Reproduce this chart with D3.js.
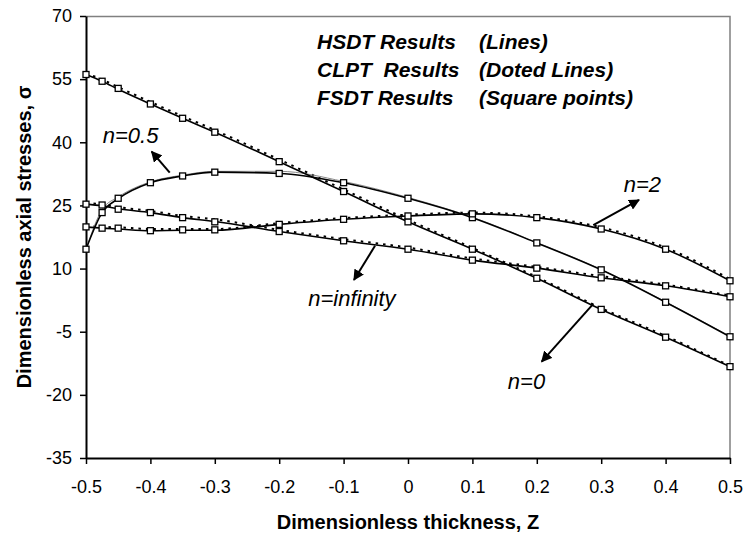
<!DOCTYPE html>
<html>
<head>
<meta charset="utf-8">
<script src="https://cdn.jsdelivr.net/npm/d3@7"></script>
<style>
  body { margin: 0; background: #fff; }
  text { font-family: "Liberation Sans", Arial, sans-serif; fill: #000; }
</style>
</head>
<body>
<svg id="chart" width="746" height="539"></svg>
<script>
// thickness positions (z) where results were computed
const zValues = [-0.5, -0.475, -0.45, -0.4, -0.35, -0.3, -0.2, -0.1, 0, 0.1, 0.2, 0.3, 0.4, 0.5]

const xTicks = [-0.5, -0.4, -0.3, -0.2, -0.1, 0, 0.1, 0.2, 0.3, 0.4, 0.5]
const yTicks = [-35, -20, -5, 10, 25, 40, 55, 70]

// HSDT results (solid lines)
const hsdtN0   = [56.1, 54.5, 52.6, 49.1, 45.7, 42.4, 35.4, 28.3, 21.1, 14.6, 7.7, 0.3, -6.3, -13.3]
const hsdtN05  = [14.6, 23.3, 26.6, 30.4, 32.0, 32.9, 32.6, 30.4, 26.7, 22.1, 16.1, 9.7, 2.0, -6.2]
const hsdtN2   = [19.9, 19.6, 19.4, 19.0, 19.1, 19.1, 20.5, 21.7, 22.5, 23.0, 22.1, 19.4, 14.6, 7.1]
const hsdtNinf = [25.3, 24.9, 24.2, 23.3, 22.1, 21.2, 18.8, 16.6, 14.6, 12.0, 10.1, 7.8, 5.9, 3.3]

// CLPT results (doted lines)
const clptN0   = [56.4, 54.9, 53.1, 49.6, 46.2, 42.9, 35.9, 28.8, 21.6, 14.9, 8.0, 0.6, -6.0, -13.1]
const clptN05  = [14.6, 24.0, 27.0, 30.6, 32.2, 33.1, 33.1, 30.7, 26.9, 22.2, 16.2, 9.8, 2.1, -6.1]
const clptN2   = [20.2, 19.9, 19.8, 19.4, 19.4, 19.4, 20.8, 22.0, 22.8, 23.3, 22.4, 19.8, 15.0, 7.5]
const clptNinf = [25.6, 25.2, 24.6, 23.7, 22.5, 21.7, 19.2, 17.0, 15.0, 12.4, 10.4, 8.2, 6.2, 3.6]

// FSDT results (square points)
const fsdtN0   = [56.1, 54.5, 52.8, 49.1, 45.7, 42.4, 35.4, 28.3, 21.1, 14.6, 7.7, 0.3, -6.3, -13.3]
const fsdtN05  = [14.6, 23.3, 26.7, 30.4, 32.0, 32.9, 32.6, 30.4, 26.7, 22.1, 16.1, 9.7, 2.0, -6.2]
const fsdtN2   = [19.9, 19.6, 19.6, 19.0, 19.2, 19.2, 20.5, 21.7, 22.5, 23.0, 22.1, 19.4, 14.6, 7.1]
const fsdtNinf = [25.3, 25.1, 24.1, 23.3, 22.1, 21.1, 18.8, 16.6, 14.6, 12.0, 10.1, 7.8, 5.9, 3.3]

const seriesNames = ['n=0', 'n=0.5', 'n=2', 'n=infinity']
const legendNames = ['HSDT Results', 'CLPT  Results', 'FSDT Results']
const legendNotes = ['(Lines)', '(Doted Lines)', '(Square points)']

const margin = {top: 16, right: 16, bottom: 81, left: 86}
const width = 746 - margin.left - margin.right
const height = 539 - margin.top - margin.bottom

const svg = d3.select('#chart')
const g = svg.append('g').attr('transform', `translate(${margin.left},${margin.top})`)

const x = d3.scaleLinear().domain([-0.5, 0.5]).range([0, width])
const y = d3.scaleLinear().domain([-35, 70]).range([height, 0])

// top and right border (gray)
g.append('path')
  .attr('d', `M0,0.5H${width}V${height}`)
  .attr('fill', 'none')
  .attr('stroke', '#808080')
  .attr('stroke-width', 1.5)

const xAxis = g.append('g')
  .attr('transform', `translate(0,${height})`)
  .call(d3.axisBottom(x).tickValues(xTicks).tickFormat(d => String(d)).tickSize(6).tickSizeOuter(0).tickPadding(16))

const yAxis = g.append('g')
  .call(d3.axisLeft(y).tickValues(yTicks).tickFormat(d => String(d)).tickSize(6).tickSizeOuter(0).tickPadding(8))

for (const ax of [xAxis, yAxis]) {
  ax.select('.domain').attr('stroke', '#000').attr('stroke-width', 2)
  ax.selectAll('.tick line').attr('stroke', '#000').attr('stroke-width', 1.5)
  ax.selectAll('.tick text').attr('font-size', 18).attr('font-family', '"Liberation Sans", Arial, sans-serif').attr('fill', '#000')
}

// axis titles
svg.append('text')
  .attr('x', margin.left + width / 2)
  .attr('y', 529)
  .attr('text-anchor', 'middle')
  .attr('font-size', 20)
  .attr('font-weight', 'bold')
  .text('Dimensionless thickness, Z')

svg.append('text')
  .attr('transform', `translate(31,${margin.top + height / 2}) rotate(-90)`)
  .attr('text-anchor', 'middle')
  .attr('font-size', 20)
  .attr('font-weight', 'bold')
  .text('Dimensionless axial stresses, σ')

const line = d3.line()
  .x((d, i) => x(zValues[i]))
  .y(d => y(d))
  .curve(d3.curveMonotoneX)

// CLPT lines
const clpt = [clptN0, clptN2, clptNinf]
g.selectAll('.clpt')
  .data(clpt)
  .join('path')
  .attr('class', 'clpt')
  .attr('d', line)
  .attr('fill', 'none')
  .attr('stroke', '#000')
  .attr('stroke-width', 2)
  .attr('stroke-dasharray', '2.5,5')

g.append('path')
  .datum(clptN05)
  .attr('d', line)
  .attr('fill', 'none')
  .attr('stroke', '#8a8a8a')
  .attr('stroke-width', 1)

// HSDT lines
const hsdt = [hsdtN0, hsdtN05, hsdtN2, hsdtNinf]
g.selectAll('.hsdt')
  .data(hsdt)
  .join('path')
  .attr('class', 'hsdt')
  .attr('d', line)
  .attr('fill', 'none')
  .attr('stroke', '#000')
  .attr('stroke-width', 1.6)

// FSDT squares
const fsdt = [fsdtN0, fsdtN05, fsdtN2, fsdtNinf]
const sq = 6
g.selectAll('.fsdt')
  .data(fsdt.flatMap(s => s.map((v, i) => ({z: zValues[i], v: v}))))
  .join('rect')
  .attr('class', 'fsdt')
  .attr('x', d => x(d.z) - sq / 2)
  .attr('y', d => y(d.v) - sq / 2)
  .attr('width', sq)
  .attr('height', sq)
  .attr('fill', '#fff')
  .attr('stroke', '#000')
  .attr('stroke-width', 1.3)

// arrows and series labels
svg.append('defs').append('marker')
  .attr('id', 'head')
  .attr('viewBox', '0 0 10 10')
  .attr('refX', 9)
  .attr('refY', 5)
  .attr('markerWidth', 5.5)
  .attr('markerHeight', 5.5)
  .attr('orient', 'auto')
  .append('path')
  .attr('d', 'M0,0L10,5L0,10z')
  .attr('fill', '#000')

function arrow(z1, s1, z2, s2) {
  g.append('line')
    .attr('x1', x(z1)).attr('y1', y(s1))
    .attr('x2', x(z2)).attr('y2', y(s2))
    .attr('stroke', '#000')
    .attr('stroke-width', 2)
    .attr('marker-end', 'url(#head)')
}

function label(txt, z, s) {
  g.append('text')
    .attr('x', x(z))
    .attr('y', y(s))
    .attr('font-size', 22)
    .attr('font-style', 'italic')
    .text(txt)
}

arrow(0.2877, 1.6, 0.2076, -12.1)
label(seriesNames[0], 0.155, -18.6)

arrow(-0.37, 32.8, -0.398, 37.8)
label(seriesNames[1], -0.474, 39.8)

arrow(0.2877, 20.35, 0.3587, 26.3)
label(seriesNames[2], 0.335, 28.2)

arrow(-0.0512, 15.4, -0.0839, 7.3)
label(seriesNames[3], -0.155, 1.1)

// legend text block
legendNames.forEach((name, i) => {
  svg.append('text')
    .attr('x', 317)
    .attr('y', 49 + i * 28)
    .attr('font-size', 21)
    .attr('font-weight', 'bold')
    .attr('font-style', 'italic')
    .style('white-space', 'pre')
    .text(name)
  svg.append('text')
    .attr('x', 479)
    .attr('y', 49 + i * 28)
    .attr('font-size', 21)
    .attr('font-weight', 'bold')
    .attr('font-style', 'italic')
    .text(legendNotes[i])
})
</script>
</body>
</html>
